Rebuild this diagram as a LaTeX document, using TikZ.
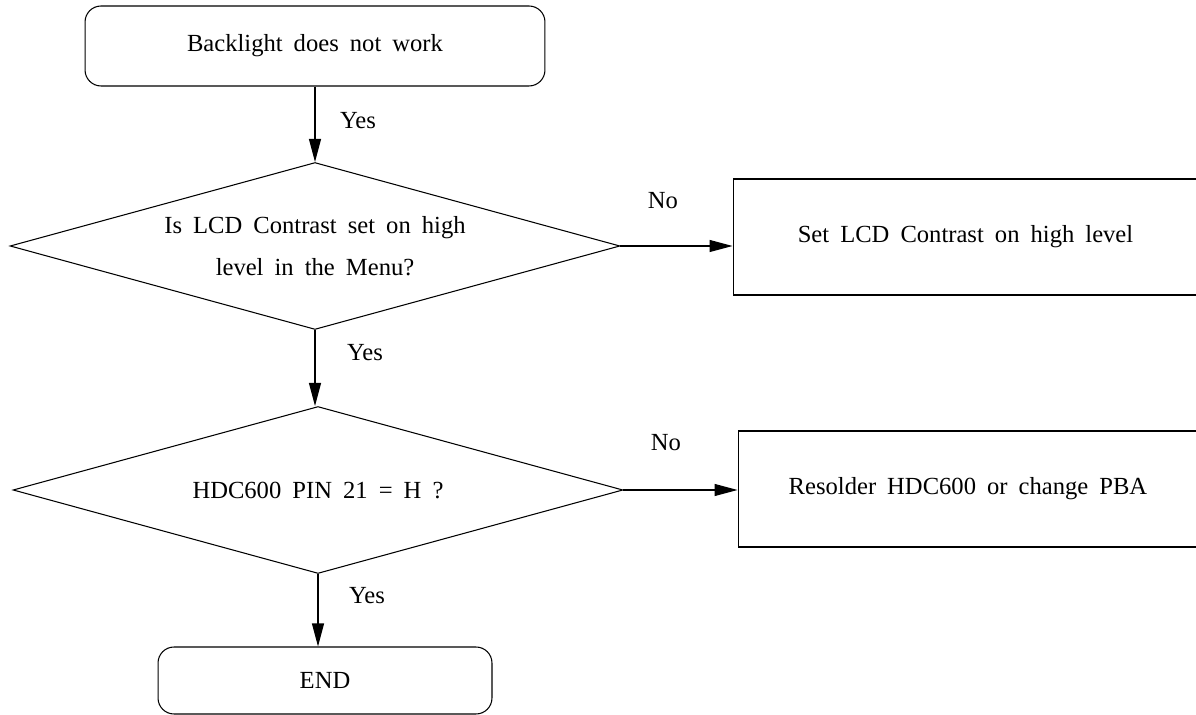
\documentclass[tikz,border=0pt]{standalone}
\usepackage{fontspec}
\setmainfont{Liberation Serif}
\usepackage{tikz}
\usetikzlibrary{shapes.geometric,arrows.meta}
\newcommand{\chartfont}{\fontsize{14}{24}\selectfont\spaceskip=0.45em plus 0.1em\relax}

\begin{document}
\begin{tikzpicture}[x=0.02cm,y=-0.02cm,
  every node/.style={font=\chartfont},
  roundbox/.style={draw,line width=0.6pt,rounded corners=0.32cm,inner sep=0pt},
  decision/.style={draw,diamond,aspect=3.65,line width=0.6pt,inner sep=0pt,minimum width=12.2cm,minimum height=3.34cm,align=center},
  actionbox/.style={draw,line width=0.6pt,inner sep=0pt,minimum width=9.2cm,minimum height=2.32cm},
  flow/.style={line width=0.6pt,-{Triangle[length=0.46cm,width=0.24cm]}}]
\useasboundingbox (0,0) rectangle (1196,715);
\node[roundbox,minimum width=9.2cm,minimum height=1.6cm] (start) at (315,46) {Backlight does not work};
\node[decision] (contrast) at (315,246) {Is LCD Contrast set on high\\level in the Menu?};
\node[actionbox,minimum width=9.3cm] (setcontrast) at (965.5,237) {Set LCD Contrast on high level};
\node[decision] (pin) at (318,490) {HDC600 PIN 21 = H ?};
\node[actionbox] (resolder) at (968,489) {Resolder HDC600 or change PBA};
\node[roundbox,minimum width=6.68cm,minimum height=1.34cm] (finish) at (325,680.5) {END};
\draw[flow] (start) -- (contrast);
\draw[flow] (contrast.south) -- (contrast.south |- pin.north);
\draw[flow] (pin.south) -- (pin.south |- finish.north);
\draw[flow] (contrast.east) -- (setcontrast.west |- contrast.east);
\draw[flow] (pin.east) -- (resolder.west |- pin.east);
\node (yesa) at (358,121) {Yes};
\node (yesb) at (365,353) {Yes};
\node (yesc) at (367,596) {Yes};
\node (noa) at (663,201) {No};
\node (nob) at (666,443) {No};
\end{tikzpicture}
\end{document}
